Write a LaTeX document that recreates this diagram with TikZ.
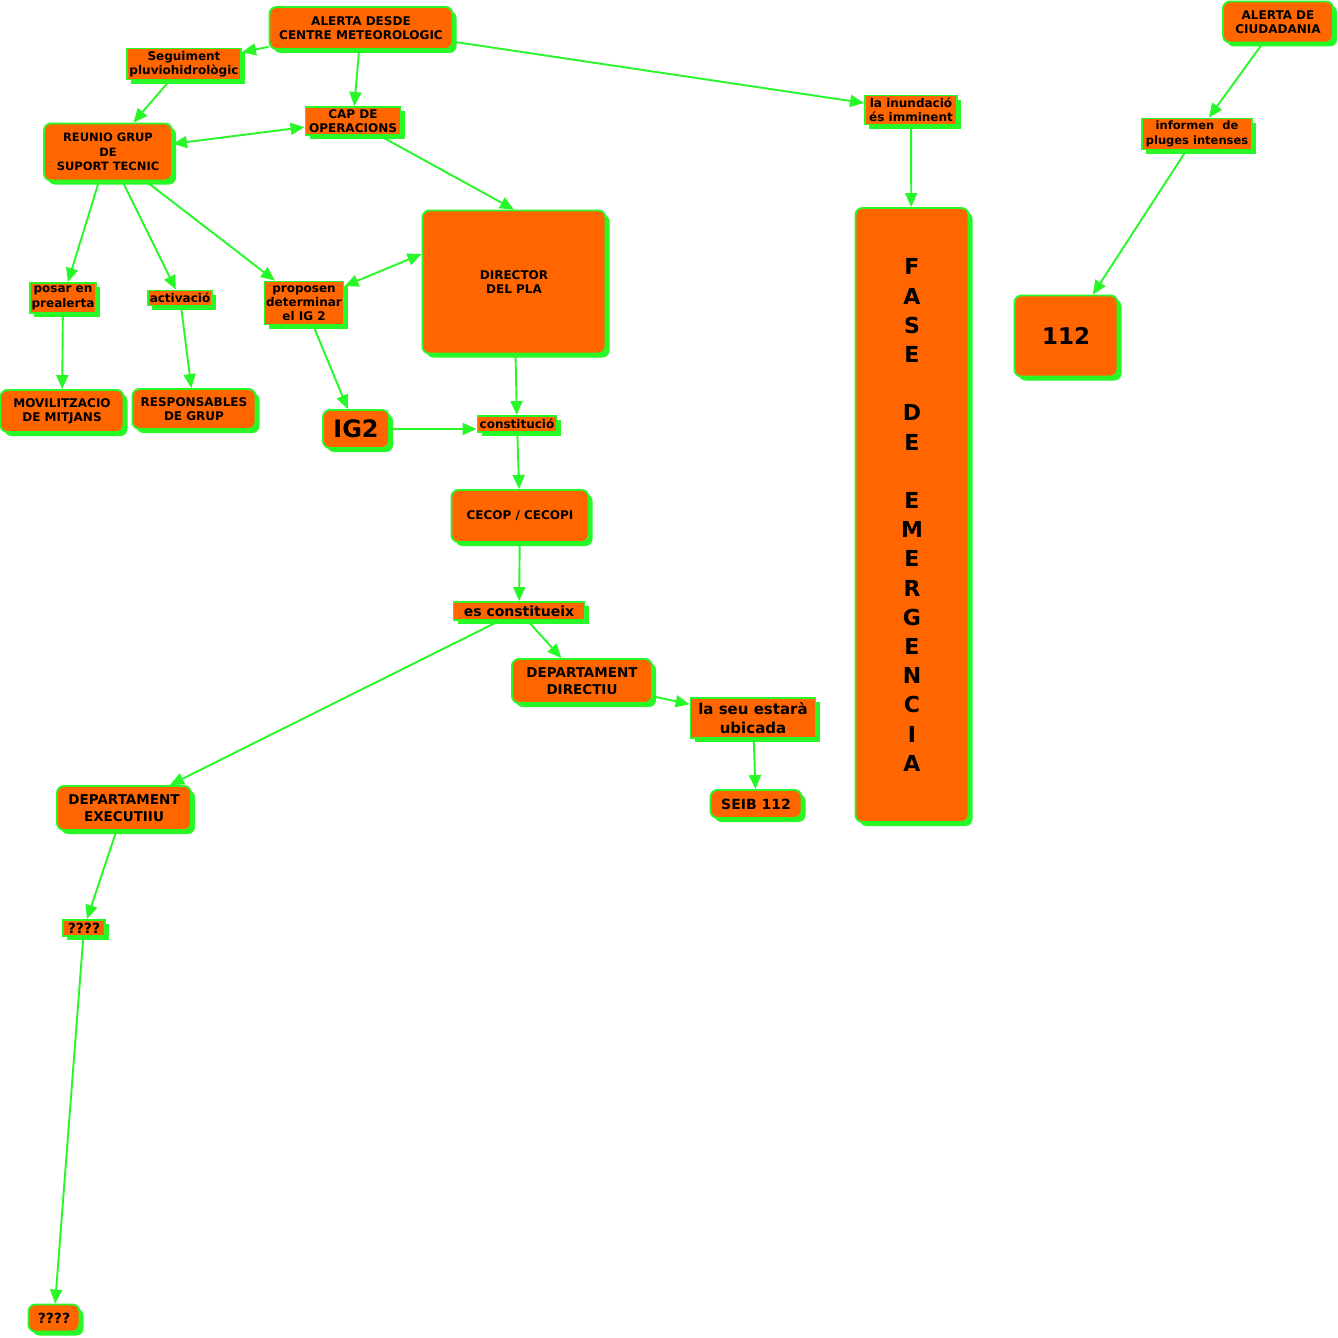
\documentclass[tikz,border=0pt]{standalone}
\usepackage{fontspec}
\setmainfont{DejaVu Sans}
\usetikzlibrary{shadows,arrows.meta,calc}
\definecolor{orng}{RGB}{255,102,0}
\definecolor{grn}{RGB}{40,248,40}
\newcommand{\fsz}[2]{\fontsize{#1}{#2}\selectfont}
\begin{document}
\begin{tikzpicture}[x=1pt,y=-1pt,
 box/.style={draw=grn, line width=1.9pt, fill=orng, inner sep=0pt, align=center,
   font=\bfseries\fsz{12}{14.5},
   drop shadow={shadow xshift=4pt, shadow yshift=-4pt, fill=grn, opacity=1}},
 concept/.style={box, rounded corners=7pt},
 linkbox/.style={box},
 arr/.style={draw=grn, line width=1.9pt, -{Triangle[length=14pt,width=12pt]}},
 darr/.style={draw=grn, line width=1.9pt, {Triangle[length=14pt,width=12pt]}-{Triangle[length=14pt,width=12pt]}},
]
\fill[white] (0,0) rectangle (1338,1338);
\useasboundingbox (0,0) rectangle (1338,1338);

\node[concept, minimum width=183pt, minimum height=42pt] (alm) at (361,28) {ALERTA DESDE\\CENTRE METEOROLOGIC};
\node[linkbox, minimum width=114pt, minimum height=31pt] (seg) at (184,64) {Seguiment\\pluviohidrològic};
\node[linkbox, minimum width=95pt, minimum height=28pt] (cap) at (353,121) {CAP DE\\OPERACIONS};
\node[concept, minimum width=128pt, minimum height=57pt, font=\bfseries\fsz{11.5}{14.5}] (reu) at (108,152) {REUNIO GRUP\\DE\\SUPORT TECNIC};
\node[linkbox, minimum width=92pt, minimum height=29pt] (inu) at (911,110) {la inundació\\és imminent};
\node[concept, minimum width=110pt, minimum height=41pt] (ciu) at (1278,22) {ALERTA DE\\CIUDADANIA};
\node[linkbox, minimum width=110pt, minimum height=31pt, font=\bfseries\fsz{11.5}{14.5}] (inf) at (1197,134) {informen\ \ de\\pluges intenses};
\node[concept, minimum width=103pt, minimum height=81pt, font=\bfseries\fsz{23}{27}] (n112) at (1066,336) {112};
\node[concept, minimum width=113pt, minimum height=614pt, font=\bfseries\fsz{22}{29.2}] (fase) at (912,515) {F\\A\\S\\E\\~\\D\\E\\~\\E\\M\\E\\R\\G\\E\\N\\C\\I\\A};
\node[concept, minimum width=183pt, minimum height=143pt] (dir) at (514,282) {DIRECTOR\\DEL PLA};
\node[linkbox, minimum width=66pt, minimum height=30pt] (pos) at (63,298) {posar en\\prealerta};
\node[linkbox, minimum width=64pt, minimum height=15pt] (act) at (180,298) {activació};
\node[linkbox, minimum width=79pt, minimum height=43pt, font=\bfseries\fsz{12}{14}] (prop) at (304,303) {proposen\\determinar\\el IG 2};
\node[concept, minimum width=123pt, minimum height=42pt] (mov) at (62,411) {MOVILITZACIO\\DE MITJANS};
\node[concept, minimum width=123pt, minimum height=40pt] (resp) at (194,409) {RESPONSABLES\\DE GRUP};
\node[concept, minimum width=66pt, minimum height=38pt, font=\bfseries\fsz{24}{28}] (ig2) at (356,429) {IG2};
\node[linkbox, minimum width=79pt, minimum height=16pt] (cons) at (517,424) {constitució};
\node[concept, minimum width=137pt, minimum height=52pt] (cecop) at (520,516) {CECOP / CECOPI};
\node[linkbox, minimum width=131pt, minimum height=18pt, font=\bfseries\fsz{14}{17}] (esc) at (519,611) {es constitueix};
\node[concept, minimum width=140pt, minimum height=44pt, font=\bfseries\fsz{13.5}{17}] (ddir) at (582,681) {DEPARTAMENT\\DIRECTIU};
\node[linkbox, minimum width=125pt, minimum height=40pt, font=\bfseries\fsz{15}{19}] (seu) at (753,718) {la seu estarà\\ubicada};
\node[concept, minimum width=91pt, minimum height=28pt, font=\bfseries\fsz{14}{17}] (seib) at (756,804) {SEIB 112};
\node[concept, minimum width=134pt, minimum height=44pt, font=\bfseries\fsz{13.5}{17}] (dexe) at (124,808) {DEPARTAMENT\\EXECUTIIU};
\node[linkbox, minimum width=42pt, minimum height=16pt, font=\bfseries\fsz{14}{17}] (q1) at (84,928) {????};
\node[concept, minimum width=51pt, minimum height=27pt, font=\bfseries\fsz{14}{17}] (q2) at (54,1318) {????};

\draw[arr] (alm) -- (seg);
\draw[arr] (alm) -- (cap);
\draw[arr] (alm) -- (inu);
\draw[arr] (seg) -- (reu);
\draw[darr] (reu) -- (cap);
\draw[arr] (cap) -- (dir.north);
\draw[arr] (reu) -- (pos);
\draw[arr] (reu) -- (act);
\draw[arr] (reu) -- (prop);
\coordinate (dirw) at ($(dir.west)+(0,-28)$);
\draw[darr] (prop) -- (dirw);
\draw[arr] (pos) -- (mov);
\draw[arr] (act) -- (resp);
\draw[arr] (prop) -- (ig2);
\draw[arr] (ig2) -- (ig2 -| cons.west);
\draw[arr] (dir) -- (cons);
\draw[arr] (cons) -- (cecop);
\draw[arr] (cecop) -- (esc);
\draw[arr] (esc) -- (ddir);
\draw[arr] (esc) -- (dexe);
\draw[arr] (ddir) -- (seu);
\draw[arr] (seu) -- (seib);
\draw[arr] (inu) -- (fase);
\draw[arr] (ciu) -- (inf);
\draw[arr] (inf) -- (n112);
\draw[arr] (dexe) -- (q1);
\draw[arr] (q1) -- (q2);
\end{tikzpicture}
\end{document}
